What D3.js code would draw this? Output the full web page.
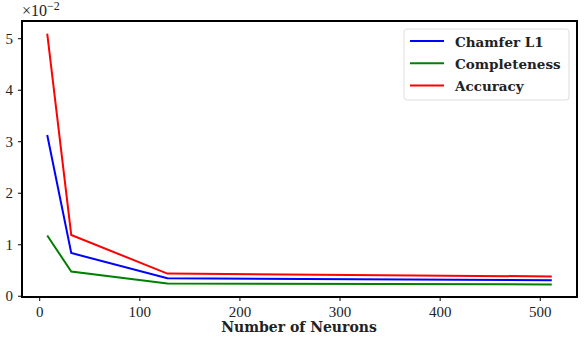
<!DOCTYPE html>
<html>
<head>
<meta charset="utf-8">
<script src="https://cdn.jsdelivr.net/npm/d3@7"></script>
<style>
  body { margin: 0; background: #fff; }
  text { font-family: "Liberation Serif", "DejaVu Serif", serif; fill: #222; }
  text.bold { font-family: "DejaVu Serif", serif; font-weight: bold; }
</style>
</head>
<body>
<svg id="chart" width="586" height="343"></svg>
<script>
// values are in units of 1e-2
var neurons = [8, 32, 128, 512];
var chamfer = [3.12, 0.83, 0.34, 0.30];
var completeness = [1.17, 0.47, 0.24, 0.22];
var accuracy = [5.09, 1.18, 0.43, 0.375];
var xTicks = [0, 100, 200, 300, 400, 500];
var yTicks = [0, 1, 2, 3, 4, 5];
var series = [
  { name: "Chamfer L1", values: chamfer, color: "#0000ff" },
  { name: "Completeness", values: completeness, color: "#008000" },
  { name: "Accuracy", values: accuracy, color: "#ff0000" }
];

var plotLeft = 22, plotRight = 577, plotTop = 21, plotBottom = 297;
var svg = d3.select("#chart");

var x = d3.scaleLinear().domain([-17.2, 537.2]).range([plotLeft, plotRight]);
var y = d3.scaleLinear().domain([-0.024, 5.334]).range([plotBottom, plotTop]);

// axes
svg.append("g")
  .attr("transform", "translate(0," + plotBottom + ")")
  .call(d3.axisBottom(x).tickValues(xTicks).tickSize(4).tickPadding(5).tickFormat(d3.format("d")))
  .call(function (g) { g.select(".domain").remove(); })
  .selectAll("text").style("font-size", "15px").attr("fill", "#222");

svg.append("g")
  .attr("transform", "translate(" + plotLeft + ",0)")
  .call(d3.axisLeft(y).tickValues(yTicks).tickSize(4).tickPadding(5).tickFormat(d3.format("d")))
  .call(function (g) { g.select(".domain").remove(); })
  .selectAll("text").style("font-size", "15px").attr("fill", "#222");

svg.selectAll(".tick line").attr("stroke", "#000").attr("stroke-width", 1);

// lines
var line = d3.line()
  .x(function (d, i) { return x(neurons[i]); })
  .y(function (d) { return y(d); });

svg.selectAll("path.series")
  .data(series)
  .enter()
  .append("path")
  .attr("class", "series")
  .attr("d", function (d) { return line(d.values); })
  .attr("fill", "none")
  .attr("stroke", function (d) { return d.color; })
  .attr("stroke-width", 2);

// frame
svg.append("rect")
  .attr("x", plotLeft).attr("y", plotTop)
  .attr("width", plotRight - plotLeft).attr("height", plotBottom - plotTop)
  .attr("fill", "none").attr("stroke", "#000").attr("stroke-width", 2);

// offset label
var off = svg.append("text").attr("x", plotLeft).attr("y", 16).style("font-size", "16px");
off.append("tspan").text("\u00d710");
off.append("tspan").attr("dy", -6).style("font-size", "12px").text("\u22122");

// x label
svg.append("text")
  .attr("class", "bold")
  .attr("x", 299).attr("y", 331.5)
  .attr("text-anchor", "middle")
  .style("font-size", "14px")
  .text("Number of Neurons");

// legend
var legend = svg.append("g");
legend.append("rect")
  .attr("x", 404).attr("y", 29).attr("width", 165).attr("height", 71)
  .attr("rx", 3).attr("fill", "#fff").attr("fill-opacity", 0.8)
  .attr("stroke", "#ddd").attr("stroke-width", 1);
var rows = legend.selectAll("g.item")
  .data(series)
  .enter()
  .append("g")
  .attr("class", "item")
  .attr("transform", function (d, i) { return "translate(0," + (41 + i * 22.3) + ")"; });
rows.append("line")
  .attr("x1", 410).attr("x2", 444).attr("y1", 0).attr("y2", 0)
  .attr("stroke", function (d) { return d.color; }).attr("stroke-width", 2);
rows.append("text")
  .attr("class", "bold")
  .attr("x", 455).attr("y", 5.5)
  .style("font-size", "13.5px")
  .text(function (d) { return d.name; });
</script>
</body>
</html>
